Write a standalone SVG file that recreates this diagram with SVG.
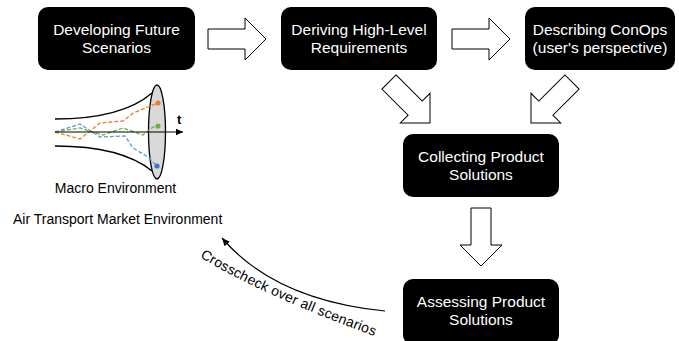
<svg xmlns="http://www.w3.org/2000/svg" width="679" height="341" viewBox="0 0 679 341">
<style>
.box{fill:#000}
.bt{fill:#fff;font-family:"Liberation Sans",Arial,sans-serif;font-size:15.5px;text-anchor:middle}
.blk{fill:#fff;stroke:#000;stroke-width:1}
.lbl{font-family:"Liberation Sans",Arial,sans-serif;font-size:14px;fill:#000}
.dash{fill:none;stroke-width:1.3;stroke-dasharray:4 2}
</style>
<defs>
<path id="barrow" d="M -58 -10 L -21 -10 L -21 -21 L 0 0 L -21 21 L -21 10 L -58 10 Z"/>
<marker id="ah" markerWidth="8" markerHeight="8" refX="7" refY="4" orient="auto" markerUnits="userSpaceOnUse">
<path d="M0,0.8 L7,4 L0,7.2 Z" fill="#000"/>
</marker>
<marker id="ah2" markerWidth="9" markerHeight="9" refX="8" refY="4.5" orient="auto" markerUnits="userSpaceOnUse">
<path d="M0,1 L8,4.5 L0,8 Z" fill="#000"/>
</marker>
<path id="tp" d="M 200 257 Q 255 292 374 336"/>
</defs>

<g id="n1"><rect class="box" x="38" y="7" width="157" height="63" rx="10"/>
<text class="bt" x="116.5" y="35">Developing Future</text><text class="bt" x="116.5" y="53">Scenarios</text></g>
<g id="n2"><rect class="box" x="281" y="7" width="156" height="63" rx="10"/>
<text class="bt" x="359" y="35">Deriving High-Level</text><text class="bt" x="359" y="53">Requirements</text></g>
<g id="n3"><rect class="box" x="525" y="7" width="150" height="63" rx="10"/>
<text class="bt" x="600" y="35">Describing ConOps</text><text class="bt" x="600" y="53">(user's perspective)</text></g>
<g id="n4"><rect class="box" x="403" y="134" width="156" height="63" rx="10"/>
<text class="bt" x="481" y="162">Collecting Product</text><text class="bt" x="481" y="180">Solutions</text></g>
<g id="n5"><rect class="box" x="403" y="279" width="156" height="66" rx="10"/>
<text class="bt" x="481" y="307">Assessing Product</text><text class="bt" x="481" y="325">Solutions</text></g>

<g id="connectors">
<use href="#barrow" class="blk" transform="translate(266,39)"/>
<use href="#barrow" class="blk" transform="translate(510,39)"/>
<use href="#barrow" class="blk" transform="translate(430,123) rotate(45)"/>
<use href="#barrow" class="blk" transform="translate(531,123) rotate(135)"/>
<use href="#barrow" class="blk" transform="translate(481,266) rotate(90)"/>
<path d="M 385 311 Q 275 300 222 238" fill="none" stroke="#000" stroke-width="1.2" marker-end="url(#ah2)"/>
<text class="lbl" letter-spacing="0.2"><textPath href="#tp">Crosscheck over all scenarios</textPath></text>
</g>

<g id="funnel">
<path d="M 55 119 C 95 119, 130 112, 152 93" fill="none" stroke="#000" stroke-width="1.5"/>
<path d="M 55 146 C 95 146, 130 153, 152 171" fill="none" stroke="#000" stroke-width="1.5"/>
<ellipse cx="157" cy="132" rx="8.5" ry="47" fill="#d9d9d9" stroke="#000" stroke-width="1.3"/>
<path class="dash" stroke="#ed7d31" d="M55 132 L80 139 L100 123 L123 121 L133 113 L148 107 L158 103"/>
<path class="dash" stroke="#5b9bd5" d="M55 132 L80 124 L100 137 L125 136 L133 148 L148 157 L157 166"/>
<path class="dash" stroke="#70ad47" d="M55 132 L80 128 L103 135 L123 128 L143 135 L153 127 L158 126"/>
<line x1="55" y1="132" x2="183" y2="132" stroke="#000" stroke-width="1.2" marker-end="url(#ah)"/>
<circle cx="158" cy="103" r="2.6" fill="#ed7d31"/>
<circle cx="158" cy="126" r="2.6" fill="#70ad47"/>
<circle cx="157" cy="166" r="2.6" fill="#4472c4"/>
<text x="177" y="124" font-family="Liberation Sans,Arial,sans-serif" font-size="13" font-weight="bold">t</text>
<text class="lbl" x="115.5" y="193" text-anchor="middle">Macro Environment</text>
<text class="lbl" x="13" y="224">Air Transport Market Environment</text>
</g>
</svg>
